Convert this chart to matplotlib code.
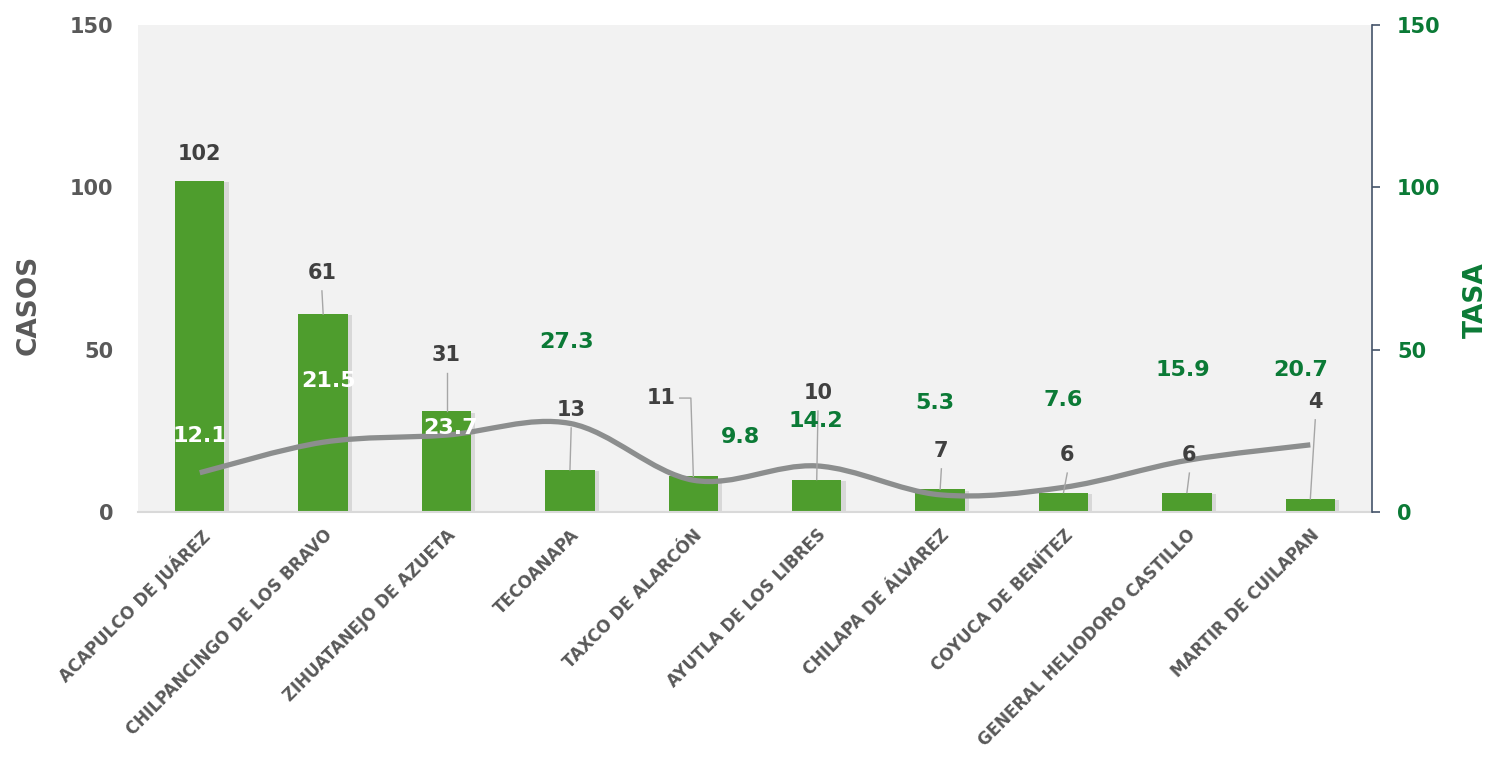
import matplotlib.pyplot as plt
import matplotlib.patheffects as pe
from matplotlib.path import Path
from matplotlib.patches import PathPatch
import numpy as np

plt.rcParams['font.family'] = ['DejaVu Sans']

# datos
municipios = ['ACAPULCO DE JUÁREZ', 'CHILPANCINGO DE LOS BRAVO', 'ZIHUATANEJO DE AZUETA',
              'TECOANAPA', 'TAXCO DE ALARCÓN', 'AYUTLA DE LOS LIBRES', 'CHILAPA DE ÁLVAREZ',
              'COYUCA DE BENÍTEZ', 'GENERAL HELIODORO CASTILLO', 'MARTIR DE CUILAPAN']
casos = [102, 61, 31, 13, 11, 10, 7, 6, 6, 4]
tasa = [12.1, 21.5, 23.7, 27.3, 9.8, 14.2, 5.3, 7.6, 15.9, 20.7]

# desplazamiento de etiquetas (dx en categorias, dy en unidades del eje)
casos_dx = [0, -0.01, 0, 0.01, -0.26, 0.01, 0.01, 0.03, 0.02, 0.04]
casos_dy = [8.3, 12.6, 17.4, 18.4, 24.1, 26.6, 11.8, 11.5, 11.5, 29.9]
casos_guia = [False, True, True, True, True, True, True, True, True, True]
tasa_dx = [0, 0.04, 0.03, -0.03, 0.38, -0.01, -0.04, 0, -0.03, -0.08]
tasa_dy = [11.3, 18.8, 2.2, 25.1, 13.3, 13.8, 28.3, 26.9, 27.8, 23.0]
tasa_blanco = [True, True, True, False, False, False, False, False, False, False]

VERDE = '#4e9d2d'
VERDE_TXT = '#0b7a36'
GRIS_TXT = '#595959'
OSCURO = '#404040'

fig = plt.figure(figsize=(14.91, 7.57), dpi=100)
ax = fig.add_axes([0.0926, 0.3236, 0.8276, 0.6434])
ax.set_facecolor('#f2f2f2')

x = np.arange(len(casos))
bars = ax.bar(x, casos, width=0.4, color=VERDE, zorder=2)
for b in bars:
    b.set_path_effects([pe.SimplePatchShadow(offset=(3, -1), shadow_rgbFace='#8c8c8c', alpha=0.25),
                        pe.Normal()])

ax.set_xlim(-0.5, len(casos) - 0.5)
ax.set_ylim(0, 150)
ax.set_yticks([0, 50, 100, 150])
ax.tick_params(axis='y', length=0, labelsize=15, labelcolor=GRIS_TXT, pad=18)
for t in ax.get_yticklabels():
    t.set_fontweight('bold')
ax.set_ylabel('CASOS', fontsize=19, color=GRIS_TXT, fontweight='bold')
ax.yaxis.set_label_coords(-0.078, 0.425)

ax.set_xticks(x)
ax.set_xticklabels(municipios, rotation=45, ha='right', va='top', rotation_mode='anchor',
                   fontsize=12, fontweight='bold', color=GRIS_TXT)
ax.tick_params(axis='x', length=0, pad=10)

for s in ['top', 'left', 'right']:
    ax.spines[s].set_visible(False)
ax.spines['bottom'].set_color('#d9d9d9')
ax.spines['bottom'].set_linewidth(1.5)

# eje secundario (tasa)
ax2 = ax.twinx()
ax2.set_ylim(0, 150)
ax2.set_yticks([0, 50, 100, 150])
ax2.tick_params(axis='y', length=6, width=1.2, color='#44546a', labelsize=15,
                labelcolor=VERDE_TXT, pad=12)
for t in ax2.get_yticklabels():
    t.set_fontweight('bold')
for s in ['top', 'left', 'bottom']:
    ax2.spines[s].set_visible(False)
ax2.spines['right'].set_color('#44546a')
ax2.spines['right'].set_linewidth(1.2)
ax2.set_ylabel('TASA', fontsize=19, color=VERDE_TXT, fontweight='bold')
ax2.yaxis.set_label_coords(1.0737, 0.435)

# linea suavizada (bezier tipo catmull-rom)
pts = np.column_stack([x, tasa]).astype(float)
verts = [pts[0]]
codes = [Path.MOVETO]
n = len(pts)
for i in range(n - 1):
    p0 = pts[max(i - 1, 0)]
    p1 = pts[i]
    p2 = pts[i + 1]
    p3 = pts[min(i + 2, n - 1)]
    c1 = p1 + (p2 - p0) / 6.0
    c2 = p2 - (p3 - p1) / 6.0
    verts += [c1, c2, p2]
    codes += [Path.CURVE4] * 3
linea = PathPatch(Path(verts, codes), facecolor='none', edgecolor='#8c8e8e', lw=3.8,
                  capstyle='butt', zorder=3)
ax2.add_patch(linea)

# etiquetas de casos
for i, v in enumerate(casos):
    lx = i + casos_dx[i]
    ly = v + casos_dy[i]
    ax2.text(lx, ly, str(v), ha='center', va='center', fontsize=15, fontweight='bold',
             color=OSCURO, zorder=5)
    if casos_guia[i]:
        if abs(casos_dx[i]) > 0.2:
            ax2.plot([lx + 0.15, lx + 0.24, i], [ly, ly, v], color='#a6a6a6', lw=1, zorder=4)
        else:
            ax2.plot([lx, i], [ly - 5.5, v], color='#a6a6a6', lw=1, zorder=4)

# etiquetas de tasa
for i, v in enumerate(tasa):
    c = 'white' if tasa_blanco[i] else VERDE_TXT
    ax2.text(i + tasa_dx[i], v + tasa_dy[i], f'{v:.1f}', ha='center', va='center',
             fontsize=16, fontweight='bold', color=c, zorder=6)

fig.savefig('out.png', dpi=100)
